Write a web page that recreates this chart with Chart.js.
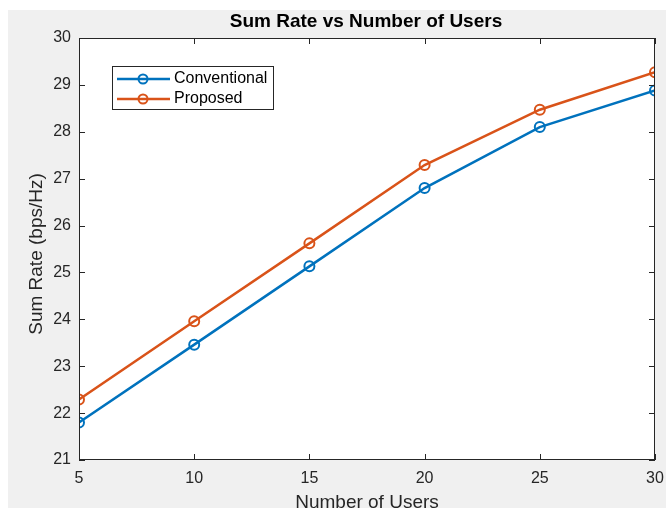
<!DOCTYPE html>
<html>
<head>
<meta charset="utf-8">
<script src="https://cdn.jsdelivr.net/npm/chart.js@4/dist/chart.umd.min.js"></script>
<style>
  html, body { margin: 0; padding: 0; background: #fff; overflow: hidden; }
  #wrap { width: 666px; height: 508px; position: relative; }
</style>
</head>
<body>
<div id="wrap"><canvas id="grafico"></canvas></div>
<script>
// dados
var users = [5, 10, 15, 20, 25, 30];
var conventional = [21.8, 23.46, 25.13, 26.8, 28.1, 28.88];
var proposed = [22.29, 23.96, 25.62, 27.29, 28.47, 29.27];
var xTicks = [5, 10, 15, 20, 25, 30];
var yTicks = [21, 22, 23, 24, 25, 26, 27, 28, 29, 30];

var textColor = '#262626';
var fontFam = '"Liberation Sans", Arial, Helvetica, sans-serif';

function pontos(xs, ys) {
  return xs.map(function (x, i) { return { x: x, y: ys[i] }; });
}

// fundo, moldura, ticks para dentro, titulos e legenda
var matlabLook = {
  id: 'matlabLook',
  beforeDraw: function (chart) {
    var c = chart.ctx;
    c.save();
    c.fillStyle = '#ffffff';
    c.fillRect(0, 0, chart.width, chart.height);
    c.fillStyle = '#f0f0f0';
    c.fillRect(8, 10, chart.width - 8, chart.height - 10);
    var a = chart.chartArea;
    c.fillStyle = '#ffffff';
    c.fillRect(a.left, a.top, a.right - a.left, a.bottom - a.top);
    c.restore();
  },
  afterDatasetsDraw: function (chart) {
    var c = chart.ctx;
    var a = chart.chartArea;
    var xs = chart.scales.x, ys = chart.scales.y;
    c.save();
    c.strokeStyle = textColor;
    c.lineWidth = 1;
    c.strokeRect(a.left + 0.5, a.top + 0.5, a.right - a.left - 1, a.bottom - a.top - 1);
    c.beginPath();
    xTicks.forEach(function (v) {
      var px = Math.round(xs.getPixelForValue(v)) + 0.5;
      c.moveTo(px, a.bottom); c.lineTo(px, a.bottom - 6);
      c.moveTo(px, a.top); c.lineTo(px, a.top + 6);
    });
    yTicks.forEach(function (v) {
      var py = Math.round(ys.getPixelForValue(v)) + 0.5;
      c.moveTo(a.left, py); c.lineTo(a.left + 6, py);
      c.moveTo(a.right, py); c.lineTo(a.right - 6, py);
    });
    c.stroke();

    // titulo
    c.fillStyle = '#000000';
    c.font = 'bold 19px ' + fontFam;
    c.textAlign = 'center';
    c.textBaseline = 'middle';
    c.fillText('Sum Rate vs Number of Users', (a.left + a.right) / 2 - 1, 22);

    // titulos dos eixos
    c.fillStyle = textColor;
    c.font = '19px ' + fontFam;
    c.fillText('Number of Users', (a.left + a.right) / 2, 503);
    c.save();
    c.translate(37, (a.top + a.bottom) / 2 + 5);
    c.rotate(-Math.PI / 2);
    c.fillText('Sum Rate (bps/Hz)', 0, 0);
    c.restore();

    // legenda
    c.fillStyle = '#ffffff';
    c.fillRect(112, 66, 162, 44);
    c.strokeStyle = textColor;
    c.strokeRect(112.5, 66.5, 161, 43);
    chart.data.datasets.forEach(function (ds, i) {
      var y = 79 + i * 20;
      c.strokeStyle = ds.borderColor;
      c.lineWidth = 2.5;
      c.beginPath();
      c.moveTo(117, y); c.lineTo(170, y);
      c.stroke();
      c.lineWidth = 2;
      c.beginPath();
      c.arc(143, y, 4.5, 0, Math.PI * 2);
      c.stroke();
      c.fillStyle = '#000000';
      c.font = '16px ' + fontFam;
      c.textAlign = 'left';
      c.fillText(ds.label, 174, y);
    });
    c.restore();
  }
};

var ctx = document.getElementById('grafico').getContext('2d');
var myChart = new Chart(ctx, {
  type: 'line',
  data: {
    datasets: [{
      label: 'Conventional',
      data: pontos(users, conventional),
      borderColor: '#0072BD',
      backgroundColor: '#0072BD',
      borderWidth: 2.5,
      pointRadius: 5,
      pointBorderWidth: 2,
      pointBackgroundColor: 'rgba(0,0,0,0)',
      pointBorderColor: '#0072BD'
    },
    {
      label: 'Proposed',
      data: pontos(users, proposed),
      borderColor: '#D95319',
      backgroundColor: '#D95319',
      borderWidth: 2.5,
      pointRadius: 5,
      pointBorderWidth: 2,
      pointBackgroundColor: 'rgba(0,0,0,0)',
      pointBorderColor: '#D95319'
    }]
  },
  options: {
    responsive: true,
    maintainAspectRatio: false,
    animation: false,
    layout: { padding: { top: 38, right: 11, left: 0, bottom: 0 } },
    plugins: {
      legend: { display: false },
      title: { display: false },
      tooltip: { enabled: false }
    },
    elements: { line: { tension: 0 } },
    scales: {
      x: {
        type: 'linear',
        min: 5,
        max: 30,
        afterBuildTicks: function (s) { s.ticks = xTicks.map(function (v) { return { value: v }; }); },
        afterFit: function (s) { s.height = 48; s.paddingLeft = 0; s.paddingRight = 0; },
        grid: { display: false, drawTicks: false },
        border: { display: false },
        ticks: { color: textColor, font: { size: 16, family: fontFam }, padding: 9, maxRotation: 0 }
      },
      y: {
        min: 21,
        max: 30,
        afterBuildTicks: function (s) { s.ticks = yTicks.map(function (v) { return { value: v }; }); },
        afterFit: function (s) { s.width = 79; s.paddingTop = 0; s.paddingBottom = 0; },
        grid: { display: false, drawTicks: false },
        border: { display: false },
        ticks: { color: textColor, font: { size: 16, family: fontFam }, padding: 8 }
      }
    }
  },
  plugins: [matlabLook]
});
</script>
</body>
</html>
